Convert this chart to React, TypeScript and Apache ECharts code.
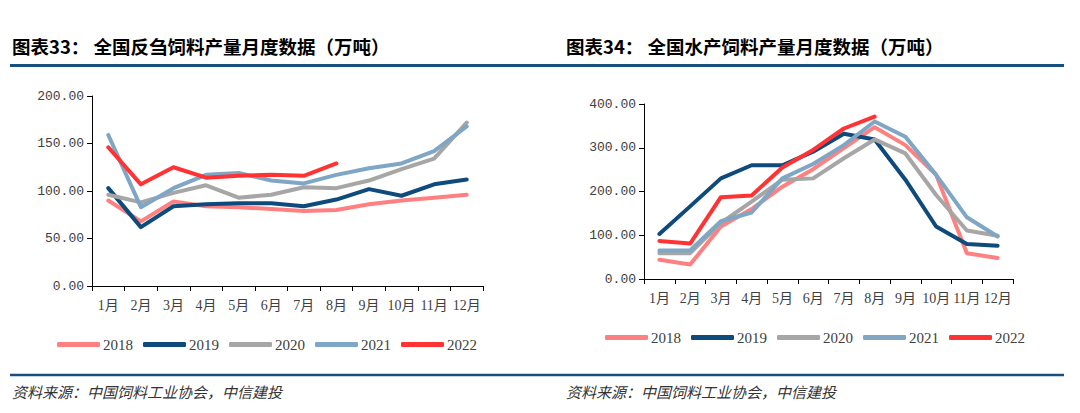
import React, { useEffect, useRef } from "react";
import * as echarts from "echarts";

const months = ["1月", "2月", "3月", "4月", "5月", "6月", "7月", "8月", "9月", "10月", "11月", "12月"];
const years = ["2018", "2019", "2020", "2021", "2022"];
const colors = ["#FF8080", "#0E4A7B", "#A6A6A6", "#7FA6C4", "#FF3333"];

// 全国反刍饲料产量 (万吨)
const rum2018 = [90, 68, 89, 84, 83, 81, 79, 80, 86, 90, 93, 96];
const rum2019 = [103, 62, 84, 86, 87, 87, 84, 91, 102, 95, 107, 112];
const rum2020 = [96, 88, 98, 106, 93, 96, 104, 103, 111, 123, 134, 172];
const rum2021 = [159, 83, 103, 117, 119, 111, 108, 117, 124, 129, 142, 168];
const rum2022 = [146, 107, 125, 114, 116, 117, 116, 129];

// 全国水产饲料产量 (万吨)
const aq2018 = [44, 33, 120, 160, 211, 251, 299, 347, 306, 238, 59, 48];
const aq2019 = [103, 166, 230, 260, 260, 291, 332, 319, 227, 120, 80, 76];
const aq2020 = [59, 59, 128, 177, 227, 230, 276, 319, 287, 192, 111, 99];
const aq2021 = [65, 65, 132, 152, 230, 263, 306, 360, 325, 238, 141, 97];
const aq2022 = [87, 81, 187, 191, 255, 295, 344, 371];

const leftTitle = "图表33： 全国反刍饲料产量月度数据（万吨）";
const rightTitle = "图表34： 全国水产饲料产量月度数据（万吨）";
const sourceText = "资料来源：中国饲料工业协会，中信建投";

const ruminant = [rum2018, rum2019, rum2020, rum2021, rum2022];
const aquatic = [aq2018, aq2019, aq2020, aq2021, aq2022];

const textColor = "#404040";
const ruleColor = "#17507F";

function makeAxes(gridIndex: number, max: number, interval: number) {
  const x = {
    type: "category",
    gridIndex,
    data: months,
    boundaryGap: true,
    axisLine: { show: true, lineStyle: { color: "#000", width: 1 } },
    axisTick: { show: true, inside: false, length: 5, lineStyle: { color: "#000" } },
    axisLabel: {
      color: textColor,
      fontSize: 14,
      fontFamily: "Liberation Serif, Noto Sans CJK SC",
      margin: 12,
      interval: 0,
    },
    splitLine: { show: false },
  };
  const y = {
    type: "value",
    gridIndex,
    min: 0,
    max,
    interval,
    axisLine: { show: true, lineStyle: { color: "#000", width: 1 } },
    axisTick: { show: true, inside: false, length: 5, lineStyle: { color: "#000" } },
    axisLabel: {
      color: textColor,
      fontSize: 13,
      fontFamily: "Liberation Mono, monospace",
      margin: 8,
      formatter: (v: number) => v.toFixed(2),
    },
    splitLine: { show: false },
  };
  return { x, y };
}

export default function App() {
  const ref = useRef<HTMLDivElement>(null);
  useEffect(() => {
    if (!ref.current) return;
    const chart = echarts.init(ref.current, undefined, { renderer: "svg" });
    const a0 = makeAxes(0, 200, 50);
    const a1 = makeAxes(1, 400, 100);
    const series: any[] = [];
    ruminant.forEach((d, i) => {
      series.push({
        type: "line",
        name: years[i],
        xAxisIndex: 0,
        yAxisIndex: 0,
        data: d,
        symbol: "none",
        lineStyle: { color: colors[i], width: 4, cap: "round", join: "round" },
        itemStyle: { color: colors[i] },
        z: i === 4 ? 10 : 2 + i,
      });
    });
    aquatic.forEach((d, i) => {
      series.push({
        type: "line",
        name: years[i],
        xAxisIndex: 1,
        yAxisIndex: 1,
        data: d,
        symbol: "none",
        lineStyle: { color: colors[i], width: 4, cap: "round", join: "round" },
        itemStyle: { color: colors[i] },
        z: i === 4 ? 10 : 2 + i,
      });
    });
    const legendCommon = {
      data: years,
      icon: "roundRect",
      itemWidth: 43,
      itemHeight: 5,
      itemGap: 10,
      textStyle: { color: textColor, fontSize: 15, fontFamily: "Liberation Serif", padding: [0, 0, 0, -2] },
      selectedMode: false,
    };
    chart.setOption({
      animation: false,
      backgroundColor: "#fff",
      grid: [
        { left: 92, top: 96, width: 391, height: 190 },
        { left: 644, top: 104, width: 369, height: 175 },
      ],
      xAxis: [a0.x, a1.x],
      yAxis: [a0.y, a1.y],
      legend: [
        { ...legendCommon, left: 52, top: 332 },
        { ...legendCommon, left: 600, top: 325 },
      ],
      series,
      graphic: [
        {
          type: "text",
          left: 12,
          top: 37,
          style: { text: leftTitle, fill: "#000", font: "bold 18.5px 'Noto Sans CJK SC'" },
        },
        {
          type: "text",
          left: 566,
          top: 37,
          style: { text: rightTitle, fill: "#000", font: "bold 18.5px 'Noto Sans CJK SC'" },
        },
        {
          type: "line",
          shape: { x1: 10, y1: 65.5, x2: 1064, y2: 65.5 },
          style: { stroke: ruleColor, lineWidth: 3 },
        },
        {
          type: "line",
          shape: { x1: 10, y1: 375, x2: 1064, y2: 375 },
          style: { stroke: ruleColor, lineWidth: 2.5 },
        },
        {
          type: "text",
          left: 12,
          top: 384,
          style: { text: sourceText, fill: "#333", font: "italic 15px 'Noto Sans CJK SC'" },
        },
        {
          type: "text",
          left: 566,
          top: 384,
          style: { text: sourceText, fill: "#333", font: "italic 15px 'Noto Sans CJK SC'" },
        },
      ],
    });
    return () => chart.dispose();
  }, []);
  return (
    <div
      ref={ref}
      style={{ position: "fixed", left: 0, top: 0, width: 1080, height: 413, background: "#fff" }}
    />
  );
}
